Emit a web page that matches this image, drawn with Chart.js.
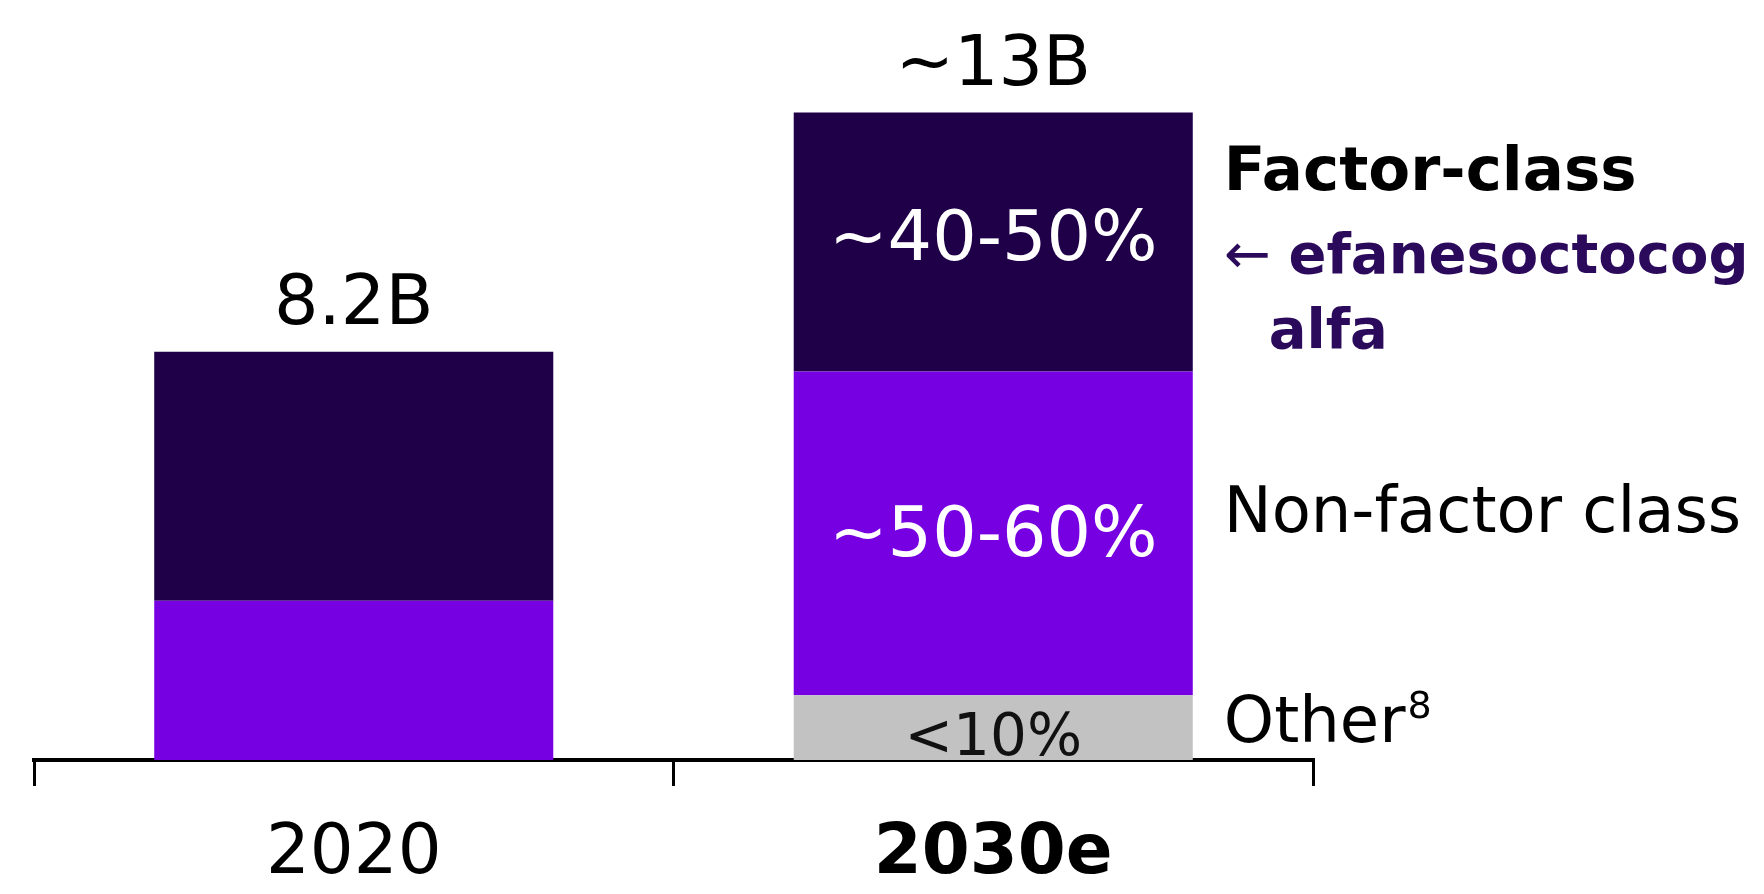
<!DOCTYPE html>
<html>
<head>
<meta charset="utf-8">
<script src="https://cdn.jsdelivr.net/npm/chart.js@4.4.1/dist/chart.umd.min.js"></script>
<style>
  html, body { margin: 0; padding: 0; background: #fff; }
  .chart { width: 1764px; height: 894px; }
</style>
</head>
<body>
<div class="chart"><canvas id="market" width="1764" height="894"></canvas></div>
<script>
// market size in $B, split by class
const years = ['2020', '2030e'];
const otherValues = [0, 1.3];
const nonFactorValues = [3.2, 6.5];
const factorValues = [5.0, 5.2];

const totalLabels = ['8.2B', '~13B'];
const otherShareLabels = ['', '<10%'];
const nonFactorShareLabels = ['', '~50-60%'];
const factorShareLabels = ['', '~40-50%'];

const FONT = '"DejaVu Sans", Verdana, sans-serif';
const DARK = '#1f0048';
const PURPLE = '#7700e3';
const GREY = '#c2c2c2';

const labelPlugin = {
  id: 'barLabels',
  afterDatasetsDraw(chart) {
    const { ctx, scales: { x, y } } = chart;
    ctx.save();

    // share labels inside the segments
    ctx.textAlign = 'center';
    ctx.textBaseline = 'middle';
    chart.data.datasets.forEach((ds, di) => {
      const meta = chart.getDatasetMeta(di);
      meta.data.forEach((bar, i) => {
        const text = ds.shareLabels[i];
        if (!text) return;
        ctx.font = ds.labelFont;
        ctx.fillStyle = ds.labelColor;
        ctx.fillText(text, bar.x, (bar.y + bar.base) / 2 + ds.labelShift);
      });
    });

    // totals above the bars
    ctx.textBaseline = 'alphabetic';
    ctx.font = '70px ' + FONT;
    ctx.fillStyle = '#000';
    years.forEach((yr, i) => {
      const total = otherValues[i] + nonFactorValues[i] + factorValues[i];
      ctx.fillText(totalLabels[i], x.getPixelForValue(i), y.getPixelForValue(total) - 28);
    });

    // class names beside the 2030e bar
    const seg = (di) => {
      const bar = chart.getDatasetMeta(di).data[1];
      return { mid: (bar.y + bar.base) / 2, right: bar.x + bar.width / 2 };
    };
    const other = seg(0), nonFactor = seg(1), factor = seg(2);
    const lx = factor.right + 31;
    ctx.textAlign = 'left';
    ctx.textBaseline = 'middle';

    ctx.font = 'bold 61px ' + FONT;
    ctx.fillStyle = '#000';
    ctx.fillText('Factor-class', lx, factor.mid - 68);
    ctx.fillStyle = '#2b0a5c';
    ctx.font = '56px ' + FONT;
    ctx.fillText('\u2190', lx, factor.mid + 16);
    const arrowW = ctx.measureText('\u2190 ').width;
    ctx.font = 'bold 56px ' + FONT;
    ctx.fillText('efanesoctocog', lx + arrowW, factor.mid + 16);
    ctx.fillText('alfa', lx + 45, factor.mid + 91);

    ctx.font = '64px ' + FONT;
    ctx.fillStyle = '#000';
    ctx.fillText('Non-factor class', lx, nonFactor.mid - 18);
    ctx.fillText('Other', lx, other.mid - 2);
    const w = ctx.measureText('Other').width;
    ctx.font = '38px ' + FONT;
    ctx.fillText('8', lx + w + 2, other.mid - 20);

    ctx.restore();
  }
};

new Chart(document.getElementById('market'), {
  type: 'bar',
  data: {
    labels: years,
    datasets: [
      {
        label: 'Other',
        data: otherValues,
        backgroundColor: GREY,
        shareLabels: otherShareLabels,
        labelColor: '#111',
        labelFont: '58px ' + FONT,
        labelShift: 12,
      },
      {
        label: 'Non-factor class',
        data: nonFactorValues,
        backgroundColor: PURPLE,
        shareLabels: nonFactorShareLabels,
        labelColor: '#fff',
        labelFont: '70px ' + FONT,
        labelShift: 4,
      },
      {
        label: 'Factor-class',
        data: factorValues,
        backgroundColor: DARK,
        shareLabels: factorShareLabels,
        labelColor: '#fff',
        labelFont: '70px ' + FONT,
        labelShift: 0,
      },
    ],
  },
  options: {
    responsive: false,
    animation: false,
    layout: { padding: { left: 34, right: 451, top: 13, bottom: 0 } },
    datasets: {
      bar: { categoryPercentage: 1, barPercentage: 0.624, borderWidth: 0 },
    },
    scales: {
      x: {
        stacked: true,
        offset: true,
        border: { display: true, color: '#000', width: 4 },
        grid: {
          offset: true,
          drawOnChartArea: false,
          tickLength: 26,
          color: '#000',
          lineWidth: 3,
        },
        ticks: {
          color: '#000',
          padding: 28,
          font: (c) => ({ family: FONT, size: 69, weight: c.index === 1 ? 'bold' : 'normal' }),
        },
        afterFit(scale) { scale.height = 134; },
      },
      y: { stacked: true, display: false, min: 0, max: 15 },
    },
    plugins: {
      legend: { display: false },
      tooltip: { enabled: false },
    },
  },
  plugins: [labelPlugin],
});
</script>
</body>
</html>
